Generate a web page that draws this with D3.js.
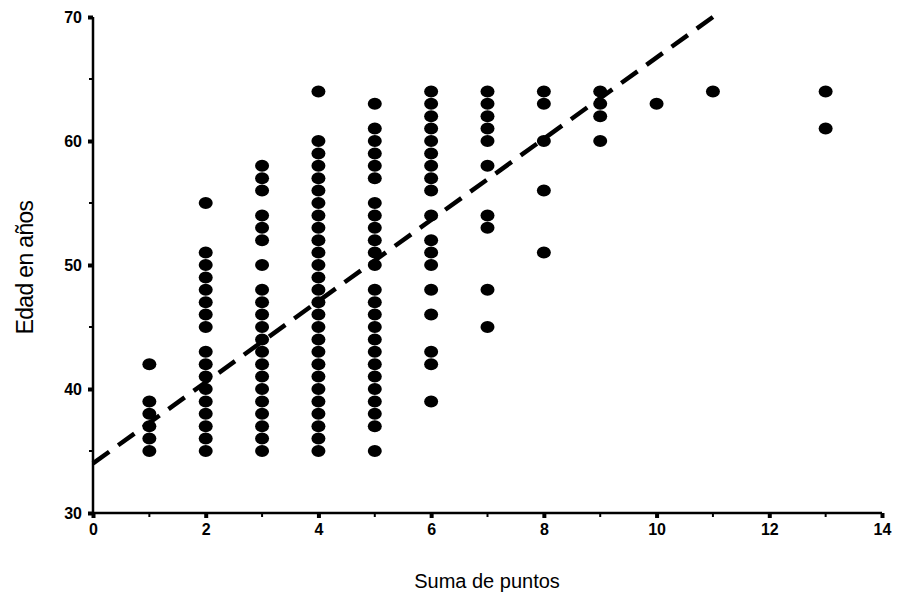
<!DOCTYPE html>
<html>
<head>
<meta charset="utf-8">
<script src="https://cdn.jsdelivr.net/npm/d3@7"></script>
<style>
  body { margin: 0; background: #fff; }
  text { font-family: "Liberation Sans", Arial, sans-serif; }
</style>
</head>
<body>
<svg id="chart"></svg>
<script>
const width = 899;
const height = 604;
const margin = { top: 17, right: 17, bottom: 91, left: 93 };

// puntos (x) y edades observadas (y) por columna
const suma = [1, 2, 3, 4, 5, 6, 7, 8, 9, 10, 11, 13];
const edades = [
  [35, 36, 37, 38, 39, 42],
  [35, 36, 37, 38, 39, 40, 41, 42, 43, 45, 46, 47, 48, 49, 50, 51, 55],
  [35, 36, 37, 38, 39, 40, 41, 42, 43, 44, 45, 46, 47, 48, 50, 52, 53, 54, 56, 57, 58],
  [35, 36, 37, 38, 39, 40, 41, 42, 43, 44, 45, 46, 47, 48, 49, 50, 51, 52, 53, 54, 55, 56, 57, 58, 59, 60, 64],
  [35, 37, 38, 39, 40, 41, 42, 43, 44, 45, 46, 47, 48, 50, 51, 52, 53, 54, 55, 57, 58, 59, 60, 61, 63],
  [39, 42, 43, 46, 48, 50, 51, 52, 54, 56, 57, 58, 59, 60, 61, 62, 63, 64],
  [45, 48, 53, 54, 58, 60, 61, 62, 63, 64],
  [51, 56, 60, 63, 64],
  [60, 62, 63, 64],
  [63],
  [64],
  [61, 64]
];

// recta de regresión (extremos)
const lineaX = [0, 11];
const lineaY = [34, 70];

const xTicks = [0, 2, 4, 6, 8, 10, 12, 14];
const xMinor = [1, 3, 5, 7, 9, 11, 13];
const yTicks = [30, 40, 50, 60, 70];
const yMinor = [35, 45, 55, 65];

const points = [];
suma.forEach((s, i) => edades[i].forEach(e => points.push({ x: s, y: e })));

const svg = d3.select("svg#chart")
  .attr("width", width)
  .attr("height", height);

const x = d3.scaleLinear().domain([0, 14]).range([margin.left, width - margin.right]);
const y = d3.scaleLinear().domain([30, 70]).range([height - margin.bottom, margin.top]);

// axes
const xAxis = svg.append("g")
  .attr("transform", "translate(0," + y(30) + ")")
  .call(d3.axisBottom(x).tickValues(xTicks).tickSize(5).tickPadding(6).tickFormat(d3.format("d")));
const yAxis = svg.append("g")
  .attr("transform", "translate(" + x(0) + ",0)")
  .call(d3.axisLeft(y).tickValues(yTicks).tickSize(5).tickPadding(6).tickFormat(d3.format("d")));

[xAxis, yAxis].forEach(g => {
  g.select(".domain").attr("stroke", "#000").attr("stroke-width", 2.5);
  g.selectAll(".tick line").attr("stroke", "#000").attr("stroke-width", 4);
  g.selectAll(".tick text")
    .attr("fill", "#000")
    .style("font-size", "16px")
    .style("font-weight", "bold");
});
yAxis.select(".domain").attr("d", "M0," + y(30) + "V" + y(70));
xAxis.select(".domain").attr("d", "M" + x(0) + ",0H" + x(14));

// minor ticks
xAxis.selectAll(".minor")
  .data(xMinor)
  .enter()
  .append("line")
  .attr("x1", d => x(d)).attr("x2", d => x(d))
  .attr("y1", 0).attr("y2", 4)
  .attr("stroke", "#000")
  .attr("stroke-width", 2);
yAxis.selectAll(".minor")
  .data(yMinor)
  .enter()
  .append("line")
  .attr("y1", d => y(d)).attr("y2", d => y(d))
  .attr("x1", 0).attr("x2", -4)
  .attr("stroke", "#000")
  .attr("stroke-width", 2);

// dots
svg.selectAll("ellipse")
  .data(points)
  .enter()
  .append("ellipse")
  .attr("cx", d => x(d.x))
  .attr("cy", d => y(d.y))
  .attr("rx", 7)
  .attr("ry", 6)
  .style("fill", "#000");

// regression line
svg.append("line")
  .attr("x1", x(lineaX[0])).attr("y1", y(lineaY[0]))
  .attr("x2", x(lineaX[1])).attr("y2", y(lineaY[1]))
  .attr("stroke", "#000")
  .attr("stroke-width", 4.5)
  .attr("stroke-dasharray", "20,11");

// titles
svg.append("text")
  .attr("x", 487)
  .attr("y", 588)
  .attr("text-anchor", "middle")
  .style("font-size", "20px")
  .text("Suma de puntos");

svg.append("text")
  .attr("transform", "translate(33," + y(49.8) + ") rotate(-90) scale(0.95,1)")
  .attr("text-anchor", "middle")
  .style("font-size", "24px")
  .style("letter-spacing", "-0.6px")
  .text("Edad en años");
</script>
</body>
</html>
